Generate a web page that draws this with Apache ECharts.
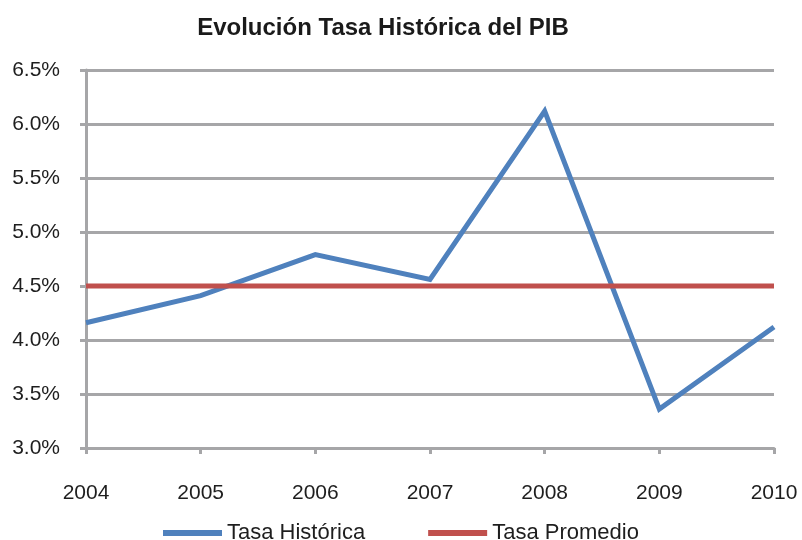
<!DOCTYPE html>
<html lang="es">
<head>
    <meta charset="UTF-8">
    <title>Evolución Tasa Histórica del PIB</title>
    <script src="https://cdn.jsdelivr.net/npm/echarts@6/dist/echarts.min.js"></script>
    <style>
        html, body {
            margin: 0;
            padding: 0;
            background: #fff;
        }
        #chart {
            width: 802px;
            height: 540px;
        }
    </style>
</head>
<body>
<div id="chart"></div>
<script>
    // datos
    let years = ["2004", "2005", "2006", "2007", "2008", "2009", "2010"];
    let tasaHistorica = [4.16, 4.41, 4.79, 4.56, 6.12, 3.36, 4.12];
    let tasaPromedio = [4.5, 4.5, 4.5, 4.5, 4.5, 4.5, 4.5];

    let gris = "#a6a6a8";
    let fuente = "Liberation Sans, Arial, sans-serif";

    let chart = echarts.init(document.getElementById("chart"));

    chart.setOption({
        animation: false,
        title: {
            text: "Evolución Tasa Histórica del PIB",
            left: 378,
            textAlign: "center",
            top: 11,
            textStyle: {
                fontFamily: fuente,
                fontSize: 24,
                fontWeight: "bold",
                color: "#1a1a1a"
            }
        },
        legend: {
            left: 163,
            top: 522,
            padding: 0,
            icon: "rect",
            itemWidth: 59,
            itemHeight: 6,
            itemGap: 63,
            textStyle: {
                fontFamily: fuente,
                fontSize: 22,
                color: "#1e1e1e"
            },
            data: ["Tasa Histórica", "Tasa Promedio"]
        },
        grid: {
            left: 86,
            right: 28,
            top: 70,
            bottom: 92,
            containLabel: false
        },
        xAxis: {
            type: "category",
            data: years,
            boundaryGap: false,
            axisLine: {lineStyle: {color: gris, width: 3}},
            axisTick: {show: true, length: 6, lineStyle: {color: gris, width: 3}},
            axisLabel: {
                margin: 35,
                fontFamily: fuente,
                fontSize: 21,
                color: "#1e1e1e"
            },
            splitLine: {show: false}
        },
        yAxis: {
            type: "value",
            min: 3,
            max: 6.5,
            interval: 0.5,
            axisLine: {show: true, lineStyle: {color: gris, width: 3}},
            axisTick: {show: true, length: 6, lineStyle: {color: gris, width: 3}},
            axisLabel: {
                margin: 26,
                fontFamily: fuente,
                fontSize: 21,
                color: "#1e1e1e",
                formatter: function (v) {
                    return v.toFixed(1) + "%";
                }
            },
            splitLine: {lineStyle: {color: gris, width: 3}}
        },
        series: [
            {
                name: "Tasa Histórica",
                type: "line",
                data: tasaHistorica,
                showSymbol: false,
                color: "#4f81bd",
                lineStyle: {width: 5, color: "#4f81bd", join: "miter"}
            },
            {
                name: "Tasa Promedio",
                type: "line",
                data: tasaPromedio,
                showSymbol: false,
                color: "#c0504d",
                lineStyle: {width: 5, color: "#c0504d"}
            }
        ]
    });
</script>
</body>
</html>
